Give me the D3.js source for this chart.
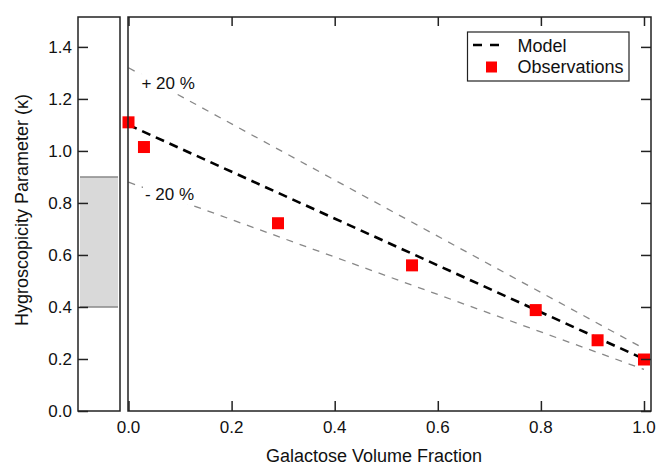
<!DOCTYPE html>
<html>
<head>
<meta charset="utf-8">
<script src="https://cdn.jsdelivr.net/npm/d3@7"></script>
<style>
  body { margin: 0; background: #fff; }
  text { font-family: "Liberation Sans", Arial, sans-serif; fill: #111; }
</style>
</head>
<body>
<script>
// Observations
const fraction = [0, 0.03, 0.29, 0.55, 0.79, 0.91, 1.0];
const kappaObs = [1.11, 1.015, 0.722, 0.56, 0.388, 0.272, 0.198];

// Model (linear mixing) and +/- 20 % envelope
const modelX = [0, 1.0];
const modelKappa = [1.10, 0.20];
const bandFactors = [1.2, 0.8];
const bandLabels = ["+ 20 %", "- 20 %"];

// range shown in the narrow left panel
const rangeBox = [0.4, 0.9];

const xTicks = [0, 0.2, 0.4, 0.6, 0.8, 1.0];
const yTicks = [0, 0.2, 0.4, 0.6, 0.8, 1.0, 1.2, 1.4];

const width = 657, height = 468;
const svg = d3.select("body").append("svg")
    .attr("width", width)
    .attr("height", height);

const plotTop = 17, plotBottom = 411;
const side = { left: 78, right: 120 };
const main = { left: 128, right: 651 };

const y = d3.scaleLinear().domain([0, 1.515]).range([plotBottom, plotTop]);
const x = d3.scaleLinear().domain([0, 1.0136]).range([main.left + 0.5, main.right]);

const frameColor = "#222";
const tickFont = 17, titleFont = 18;

// ---- left panel ----
const sideG = svg.append("g");
sideG.append("rect")
    .attr("x", side.left + 2).attr("width", side.right - side.left - 4)
    .attr("y", y(rangeBox[1])).attr("height", y(rangeBox[0]) - y(rangeBox[1]))
    .attr("fill", "#d9d9d9");
rangeBox.forEach(v => {
  sideG.append("line")
      .attr("x1", side.left + 2).attr("x2", side.right - 2)
      .attr("y1", y(v)).attr("y2", y(v))
      .attr("stroke", "#888").attr("stroke-width", 1.5);
});
sideG.append("rect")
    .attr("x", side.left).attr("y", plotTop)
    .attr("width", side.right - side.left).attr("height", plotBottom - plotTop)
    .attr("fill", "none").attr("stroke", frameColor).attr("stroke-width", 1.5);

const yAxis = sideG.append("g")
    .attr("transform", `translate(${side.left},0)`)
    .call(d3.axisRight(y).tickValues(yTicks).tickSize(10).tickFormat(""));
yAxis.select(".domain").remove();
yAxis.selectAll("line").attr("stroke", frameColor).attr("stroke-width", 1.5);

yTicks.forEach(v => {
  svg.append("text")
      .attr("x", side.left - 6).attr("y", y(v))
      .attr("dy", "0.36em")
      .attr("text-anchor", "end")
      .attr("font-size", tickFont)
      .text(d3.format(".1f")(v));
});

// ---- main panel ----
const plot = svg.append("g");

// bands
bandFactors.forEach(f => {
  plot.append("path")
      .datum(modelX.map((d, i) => [d, modelKappa[i] * f]))
      .attr("d", d3.line().x(d => x(d[0])).y(d => y(d[1])))
      .attr("fill", "none")
      .attr("stroke", "#888")
      .attr("stroke-width", 1.3)
      .attr("stroke-dasharray", "7,7");
});

// band labels with white background
const labelPos = [[0.025, 1.238], [0.032, 0.81]];
bandLabels.forEach((t, i) => {
  const g = plot.append("g");
  const txt = g.append("text")
      .attr("x", x(labelPos[i][0])).attr("y", y(labelPos[i][1]))
      .attr("font-size", tickFont)
      .text(t);
  const bb = txt.node().getBBox();
  g.insert("rect", "text")
      .attr("x", bb.x - 2).attr("y", bb.y)
      .attr("width", bb.width + 4).attr("height", bb.height)
      .attr("fill", "#fff");
});

// model
plot.append("path")
    .datum(modelX.map((d, i) => [d, modelKappa[i]]))
    .attr("d", d3.line().x(d => x(d[0])).y(d => y(d[1])))
    .attr("fill", "none")
    .attr("stroke", "#000")
    .attr("stroke-width", 2.6)
    .attr("stroke-dasharray", "9,6");

// observations
const sq = 12;
plot.selectAll("rect.obs")
    .data(fraction)
    .enter().append("rect")
    .attr("class", "obs")
    .attr("x", d => x(d) - sq / 2)
    .attr("y", (d, i) => y(kappaObs[i]) - sq / 2)
    .attr("width", sq).attr("height", sq)
    .attr("fill", "#ff0000");

// frame
svg.append("rect")
    .attr("x", main.left).attr("y", plotTop)
    .attr("width", main.right - main.left).attr("height", plotBottom - plotTop)
    .attr("fill", "none").attr("stroke", frameColor).attr("stroke-width", 1.5);

// axes (ticks inward)
const xb = svg.append("g").attr("transform", `translate(0,${plotBottom})`)
    .call(d3.axisTop(x).tickValues(xTicks).tickSize(10).tickFormat(""));
const xt = svg.append("g").attr("transform", `translate(0,${plotTop})`)
    .call(d3.axisBottom(x).tickValues(xTicks).tickSize(9).tickFormat(""));
const yr = svg.append("g").attr("transform", `translate(${main.right},0)`)
    .call(d3.axisLeft(y).tickValues(yTicks).tickSize(10).tickFormat(""));
[xb, xt, yr].forEach(a => {
  a.select(".domain").remove();
  a.selectAll("line").attr("stroke", frameColor).attr("stroke-width", 1.5);
});

xTicks.forEach(v => {
  svg.append("text")
      .attr("x", x(v)).attr("y", 433)
      .attr("text-anchor", "middle")
      .attr("font-size", tickFont)
      .text(d3.format(".1f")(v));
});

// axis titles
svg.append("text")
    .attr("x", 374).attr("y", 462)
    .attr("text-anchor", "middle")
    .attr("font-size", titleFont)
    .text("Galactose Volume Fraction");

svg.append("text")
    .attr("transform", `translate(28,210) rotate(-90)`)
    .attr("text-anchor", "middle")
    .attr("font-size", titleFont)
    .text("Hygroscopicity Parameter (κ)");

// legend
const lg = svg.append("g");
lg.append("rect")
    .attr("x", 467.5).attr("y", 32)
    .attr("width", 161.5).attr("height", 49)
    .attr("fill", "#fff").attr("stroke", frameColor).attr("stroke-width", 1.2);
lg.append("line")
    .attr("x1", 473).attr("x2", 500).attr("y1", 45).attr("y2", 45)
    .attr("stroke", "#000").attr("stroke-width", 2.6)
    .attr("stroke-dasharray", "9,8");
lg.append("rect")
    .attr("x", 486).attr("y", 61.5).attr("width", 11).attr("height", 11)
    .attr("fill", "#ff0000");
lg.append("text").attr("x", 517.5).attr("y", 52).attr("font-size", titleFont).text("Model");
lg.append("text").attr("x", 517.5).attr("y", 73).attr("font-size", titleFont).text("Observations");
</script>
</body>
</html>
